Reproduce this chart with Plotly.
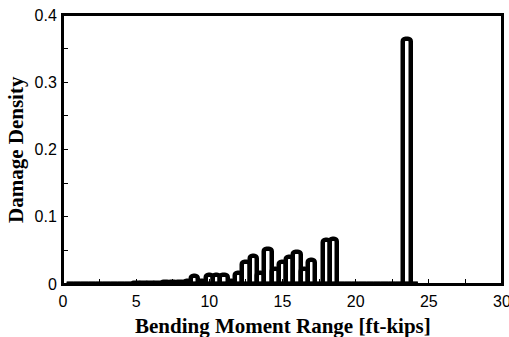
import plotly.graph_objects as go

# Bin centres (ft-kips) and damage density values
moment_bins = [0.5, 1.0, 1.5, 2.0, 2.5, 3.0, 3.5, 4.0, 4.5, 5.0, 5.5, 6.0, 6.5,
               7.0, 7.5, 8.0, 8.5, 9.0, 9.5, 10.0, 10.5, 11.0, 11.5, 12.0, 12.5,
               13.0, 13.5, 14.0, 14.5, 15.0, 15.5, 16.0, 16.5, 17.0, 17.5, 18.0,
               18.5, 19.0, 19.5, 20.0, 20.5, 21.0, 21.5, 22.0, 22.5, 23.0, 23.5, 24.0]
damage_density = [0.0, 0.0, 0.0, 0.0, 0.0, 0.0, 0.0, 0.0005, 0.0007, 0.001, 0.001, 0.0015, 0.002,
                  0.0025, 0.003, 0.0035, 0.005, 0.012, 0.004, 0.013, 0.013, 0.014, 0.005, 0.016, 0.032,
                  0.041, 0.016, 0.052, 0.022, 0.032, 0.040, 0.047, 0.022, 0.035, 0.0, 0.065,
                  0.067, 0.0, 0.0, 0.0, 0.0, 0.0, 0.0, 0.0, 0.0, 0.0, 0.365, 0.0]
bin_width = 0.5

x_ticks = [0, 5, 10, 15, 20, 25, 30]
y_ticks = [0, 0.1, 0.2, 0.3, 0.4]
y_tick_labels = ["0", "0.1", "0.2", "0.3", "0.4"]

x_title = "Bending Moment Range [ft-kips]"
y_title = "Damage Density"

W, H = 509, 337
ML, MR, MT, MB = 63, 7, 15, 53
PW, PH = W - ML - MR, H - MT - MB

fig = go.Figure()

# Thick baseline spanning all bins (zero-height bins)
fig.add_trace(go.Scatter(
    x=[moment_bins[0] - bin_width / 2, moment_bins[-1] + bin_width / 2],
    y=[0, 0], mode="lines", line=dict(color="black", width=4.5),
    hoverinfo="skip", showlegend=False))

fig.add_trace(go.Bar(
    x=moment_bins, y=damage_density, width=bin_width,
    marker=dict(color="white", line=dict(color="black", width=4.5), cornerradius=3),
    showlegend=False))

axis_common = dict(showline=True, mirror=True, linecolor="black", linewidth=2,
                   showgrid=False, zeroline=False, automargin=False,
                   ticklabeloverflow="allow",
                   ticks="inside", ticklen=5, tickwidth=1, tickcolor="black",
                   tickfont=dict(family="Liberation Sans, Arial", size=16, color="black"))

fig.update_xaxes(range=[0, 30], tickvals=x_ticks, ticktext=[str(v) for v in x_ticks],
                 ticklabelstandoff=2,
                 minor=dict(ticks="inside", ticklen=5, tickcolor="black", dtick=2.5, showgrid=False),
                 **axis_common)
fig.update_yaxes(range=[0, 0.4], tickvals=y_ticks, ticktext=y_tick_labels,
                 ticklabelstandoff=1,
                 minor=dict(ticks="inside", ticklen=5, tickcolor="black", dtick=0.05, showgrid=False),
                 **axis_common)

# Explicit frame drawn as a shape
fig.add_shape(type="rect", xref="paper", yref="paper", x0=0, x1=1, y0=0, y1=1,
              line=dict(color="black", width=2), fillcolor="rgba(0,0,0,0)", layer="above")

title_font = dict(family="Liberation Serif, Times New Roman", size=21, color="black")
fig.add_annotation(text="<b>" + x_title + "</b>", xref="paper", yref="paper",
                   x=0.5, y=-(326 - (MT + PH)) / PH, xanchor="center", yanchor="middle",
                   showarrow=False, font=title_font)
fig.add_annotation(text="<b>" + y_title + "</b>", xref="paper", yref="paper",
                   x=-(ML - 15.5) / PW, y=0.5, xanchor="center", yanchor="middle",
                   textangle=-90, showarrow=False, font=title_font)

fig.update_layout(width=W, height=H, margin=dict(l=ML, r=MR, t=MT, b=MB, autoexpand=False),
                  paper_bgcolor="white", plot_bgcolor="white", bargap=0)

fig.write_html("out.html")
